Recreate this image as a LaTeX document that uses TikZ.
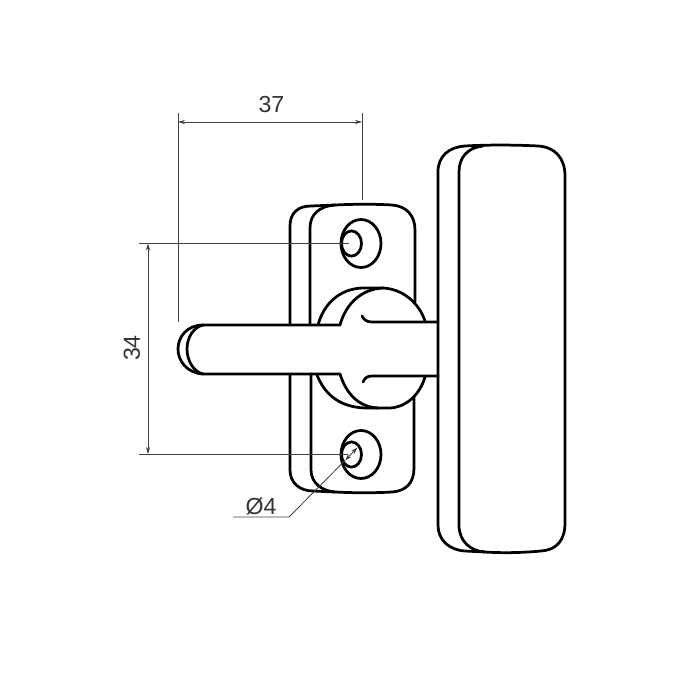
\documentclass[tikz,border=0pt]{standalone}
\usepackage{fontspec}
\setmainfont{Liberation Sans}
\usetikzlibrary{arrows.meta, shapes.geometric}

\begin{document}
\begin{tikzpicture}[x=0.025cm, y=-0.025cm,
    part/.style = {line width=1.95pt, line cap=round, line join=round},
    dimline/.style = {line width=0.6pt, draw=black!75},
    dimarrow/.style = {dimline, {Stealth[length=5pt,width=3pt]}-{Stealth[length=5pt,width=3pt]}},
    dimtext/.style = {font=\fontsize{16.5}{18}\selectfont, text=black!80, inner sep=0pt},
    hole/.style = {ellipse, draw, line width=1.95pt, inner sep=0pt}]

\useasboundingbox (0,0) rectangle (700,700);

% Knob
\draw[part] (438,320) -- (438,172) .. controls (438,156) and (449,147) .. (465,146)
    .. controls (490,144.5) and (520,145) .. (538,146)
    .. controls (555,147) and (565,158) .. (565,176) -- (565,523)
    .. controls (565,541) and (556,550) .. (541,551)
    .. controls (520,553) and (500,553) .. (485,552)
    .. controls (470,551) and (459,541) .. (459,525) -- (459,172)
    .. controls (459,157) and (468,147.5) .. (483,146);
\draw[part] (438,320) -- (438,525) .. controls (438,540) and (449,550) .. (465,551) -- (485,552);

% Plate back
\draw[part] (290,325) -- (290,226) .. controls (290,213) and (298,206) .. (311,206) -- (335,205);
\draw[part] (290,374) -- (290,470) .. controls (290,483) and (300,491) .. (313,491) -- (335,492);

% Plate front
\draw[part] (310,325) -- (310,228) .. controls (310,214) and (320,206) .. (335,205)
    .. controls (355,204) and (375,204) .. (392,205)
    .. controls (406,206) and (415,215) .. (415,230) -- (415,302);
\draw[part] (311,374) -- (311,470) .. controls (311,483) and (322,491) .. (335,492)
    .. controls (355,493) and (375,493) .. (392,492)
    .. controls (406,491) and (414,483) .. (414,468) -- (414,397);

% Holes
\node[hole,minimum width=1cm,minimum height=1.2cm] (topouter) at (361,243.5) {};
\node[hole,minimum width=0.5cm,minimum height=0.63cm] (topinner) at (351.5,243.5) {};
\node[hole,minimum width=1cm,minimum height=1.2cm] (botouter) at (361,454.5) {};
\node[hole,minimum width=0.5cm,minimum height=0.63cm] (botinner) at (351.5,454.5) {};

% Lever
\draw[part] (340,325) -- (203,325) .. controls (187,325) and (178,337) .. (178,349)
    .. controls (178,361) and (187,373) .. (203,374) -- (340,374);
\draw[part] (203,325) .. controls (194,327) and (187,337) .. (187,349)
    .. controls (187,361) and (194,372) .. (203,374);

% Boss
\draw[part] (318,325) .. controls (324,303) and (340,289) .. (362,288) -- (383,288)
    .. controls (403,289) and (419,303) .. (425,321);
\draw[part] (340,325) .. controls (346,303) and (362,289) .. (383,288);
\draw[part] (317,375) .. controls (325,395) and (340,407) .. (365,408) -- (390,408)
    .. controls (407,407) and (420,394) .. (425,377);
\draw[part] (340,374) .. controls (346,393) and (358,407) .. (378,408);

% Stem
\draw[part] (362,316) .. controls (364,320) and (367,322) .. (372,322) -- (438,322);
\draw[part] (363,382) .. controls (365,378) and (367,376) .. (372,376) -- (438,376);

% Dimension 37
\coordinate (wl) at (178,122);
\coordinate (wr) at (362,122);
\draw[dimline] (178,113) -- (178,322);
\draw[dimline] (362,113) -- (362,200);
\draw[dimarrow] (wl) -- (wr);
\node[dimtext] (wlabel) at (271.5,105) {37};

% Dimension 34
\coordinate (ht) at (148,243.5);
\coordinate (hb) at (148,454);
\draw[dimline] (139,243.5) -- (349,243.5);
\draw[dimline] (139,454) -- (348,454);
\draw[dimarrow] (ht) -- (hb);
\node[dimtext,rotate=90] (hlabel) at (132,348) {34};

% Dimension diameter
\coordinate (da) at (357.5,447.5);
\coordinate (db) at (345,460.5);
\coordinate (dc) at (289,517);
\coordinate (dd) at (233,517);
\draw[dimarrow] (da) -- (db);
\draw[dimline] (db) -- (dc) -- (dd);
\node[dimtext] (dlabel) at (261,506) {Ø4};
\end{tikzpicture}
\end{document}
